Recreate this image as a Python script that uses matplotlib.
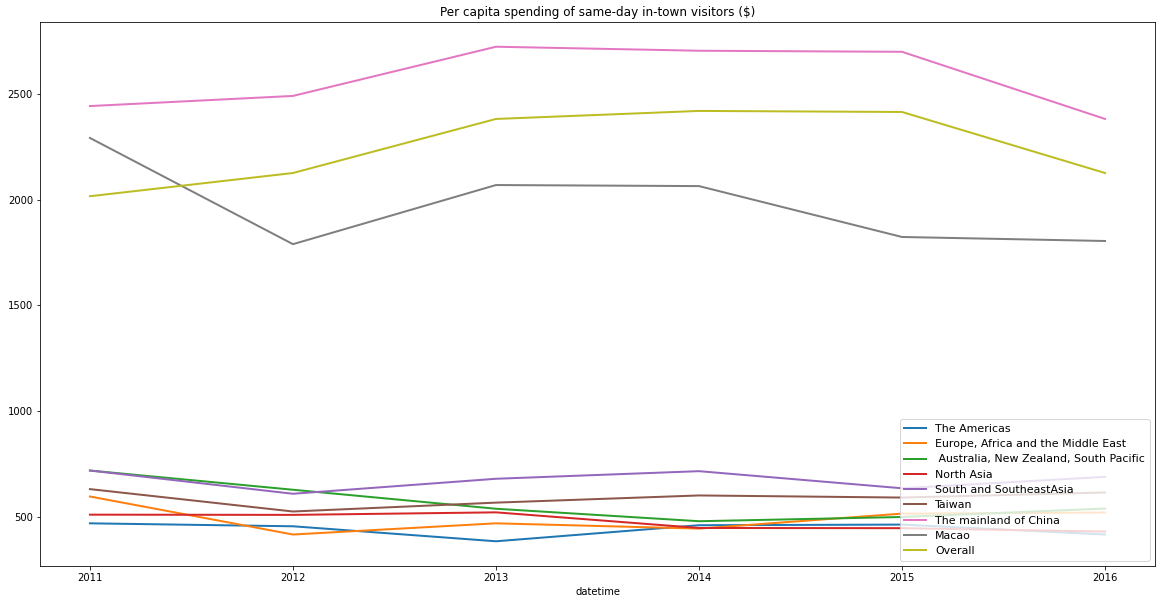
import matplotlib
matplotlib.use("Agg")
import matplotlib.pyplot as plt

years = [2011, 2012, 2013, 2014, 2015, 2016]

americas = [468, 454, 383, 459, 462, 415]
europe = [595, 415, 468, 443, 514, 519]
australia = [718, 627, 537, 478, 498, 538]
north_asia = [509, 508, 520, 446, 445, 429]
south_asia = [718, 608, 679, 715, 634, 688]
taiwan = [630, 524, 566, 600, 590, 614]
mainland = [2444, 2492, 2725, 2706, 2701, 2383]
macao = [2293, 1790, 2070, 2065, 1824, 1805]
overall = [2017, 2127, 2383, 2421, 2416, 2127]

series = [
    ("The Americas", americas),
    ("Europe, Africa and the Middle East", europe),
    (" Australia, New Zealand, South Pacific", australia),
    ("North Asia", north_asia),
    ("South and SoutheastAsia", south_asia),
    ("Taiwan", taiwan),
    ("The mainland of China", mainland),
    ("Macao", macao),
    ("Overall", overall),
]

fig = plt.figure(figsize=(1166 / 72, 604 / 72), dpi=72)
ax = fig.add_axes([40 / 1166, 38 / 604, 1115 / 1166, 544 / 604])

for name, vals in series:
    ax.plot(years, vals, label=name, linewidth=2)

ax.set_xlim(2010.754, 2016.246)
ax.set_xticks(years)
ax.set_xticklabels([str(y) for y in years])
ax.set_xlabel("datetime")
ax.set_title("Per capita spending of same-day in-town visitors ($)")
ax.legend(loc="lower right", fontsize=11, labelspacing=0.48)

fig.savefig("out.png", dpi=72)
